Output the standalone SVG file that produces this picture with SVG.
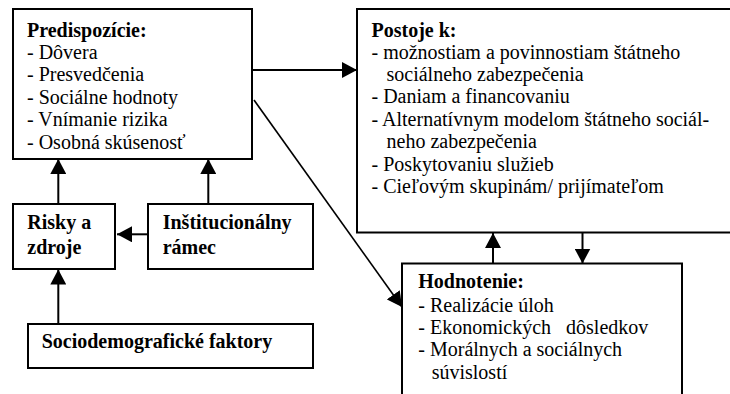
<svg xmlns="http://www.w3.org/2000/svg" width="730" height="394" viewBox="0 0 730 394">
<style>
.box{fill:#fff;stroke:#000;stroke-width:2}
.t{font-family:'Liberation Serif','Times New Roman',serif;font-size:20px;fill:#000}
.b{font-weight:bold}
.c{fill:none;stroke:#000;stroke-width:2}
.d{fill:none;stroke:#000;stroke-width:1.6}
</style>
<defs>
<marker id="ah" markerUnits="userSpaceOnUse" markerWidth="16" markerHeight="16" refX="15" refY="8" orient="auto" viewBox="0 0 16 16">
<path d="M0,0 L15,8 L0,16 z" fill="#000"/>
</marker>
</defs>
<rect width="730" height="394" fill="#fff"/>
<g id="predispozicie" class="t">
<rect class="box" x="13" y="9" width="239" height="150"/>
<text class="b" x="27" y="36.5">Predispozície:</text>
<text x="27" y="59">- Dôvera</text>
<text x="27" y="81.4">- Presvedčenia</text>
<text x="27" y="103.8">- Sociálne hodnoty</text>
<text x="27" y="126.2">- Vnímanie rizika</text>
<text x="27" y="148.6">- Osobná skúsenosť</text>
</g>
<g id="postoje" class="t">
<rect class="box" x="357" y="9" width="380" height="223.5"/>
<text class="b" x="371.5" y="36.5">Postoje k:</text>
<text x="371.5" y="58.5">- možnostiam a povinnostiam štátneho</text>
<text x="386.5" y="81">sociálneho zabezpečenia</text>
<text x="371.5" y="103.3">- Daniam a financovaniu</text>
<text x="371.5" y="126">- Alternatívnym modelom štátneho sociál-</text>
<text x="386.5" y="148.3">neho zabezpečenia</text>
<text x="371.5" y="170.7">- Poskytovaniu služieb</text>
<text x="371.5" y="193.3">- Cieľovým skupinám/ prijímateľom</text>
</g>
<g id="risky" class="t">
<rect class="box" x="13" y="204" width="102" height="65"/>
<text class="b" x="27.3" y="229.3">Risky a</text>
<text class="b" x="27.3" y="254">zdroje</text>
</g>
<g id="institucionalny" class="t">
<rect class="box" x="148" y="204" width="165" height="65"/>
<text class="b" x="162.7" y="229.3">Inštitucionálny</text>
<text class="b" x="162.7" y="254">rámec</text>
</g>
<g id="sociodemograficke" class="t">
<rect class="box" x="28" y="324" width="285" height="44"/>
<text class="b" x="41.7" y="348.3">Sociodemografické faktory</text>
</g>
<g id="hodnotenie" class="t">
<rect class="box" x="402" y="263.5" width="280" height="150"/>
<text class="b" x="418.3" y="288.3">Hodnotenie:</text>
<text x="418.3" y="311.7">- Realizácie úloh</text>
<text x="418.3" y="334" xml:space="preserve">- Ekonomických   dôsledkov</text>
<text x="418.3" y="356.3">- Morálnych a sociálnych</text>
<text x="431.7" y="379">súvislostí</text>
</g>
<g id="connectors">
<path class="c" d="M252,70 H357" marker-end="url(#ah)"/>
<path class="d" d="M254,100 L402,307" marker-end="url(#ah)"/>
<path class="c" d="M58.3,204 V159" marker-end="url(#ah)"/>
<path class="c" d="M208.3,204 V159" marker-end="url(#ah)"/>
<path class="c" d="M148,234.3 H117" marker-end="url(#ah)"/>
<path class="c" d="M58.3,324 V269.5" marker-end="url(#ah)"/>
<path class="c" d="M493,263.5 V233" marker-end="url(#ah)"/>
<path class="c" d="M582.5,232.5 V263.5" marker-end="url(#ah)"/>
</g>
</svg>
